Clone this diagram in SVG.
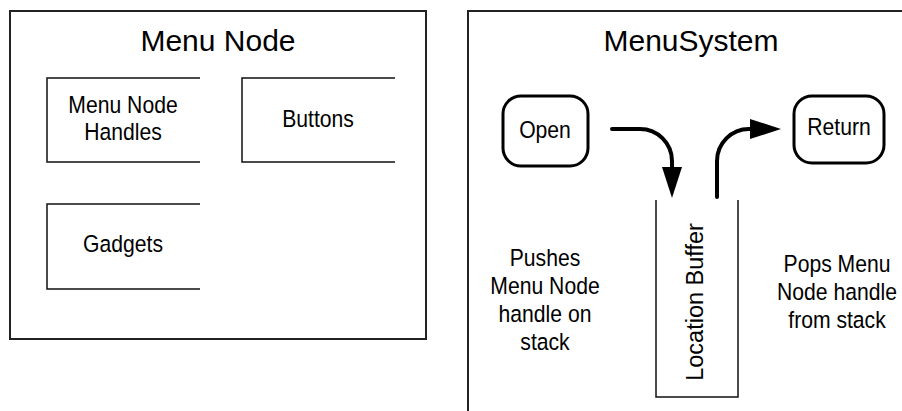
<svg xmlns="http://www.w3.org/2000/svg" width="902" height="411" viewBox="0 0 902 411">
  <style>
    text { font-family: "Liberation Sans", Arial, sans-serif; fill: #000; text-anchor: middle; }
    .title { font-size: 30px; }
    .label { font-size: 23.5px; }
    .frame { fill: none; stroke: #222; stroke-width: 2; }
    .open-box { fill: none; stroke: #111; stroke-width: 1.5; }
    .pill { fill: #fff; stroke: #000; stroke-width: 3; }
    .flow { fill: none; stroke: #000; stroke-width: 4; stroke-linecap: round; }
  </style>
  <defs>
    <marker id="head" viewBox="0 0 31 20" refX="0" refY="10" markerWidth="31" markerHeight="20" markerUnits="userSpaceOnUse" orient="auto">
      <path d="M0,0 L31,10 L0,20 z" fill="#000"/>
    </marker>
  </defs>

  <!-- Menu Node container -->
  <g id="menu-node">
    <rect class="frame" x="10" y="11" width="416" height="328"/>
    <text class="title" x="218" y="51">Menu Node</text>
  </g>
  <g id="menu-node-handles">
    <path class="open-box" d="M200,78 H47 V162 H200"/>
    <g transform="translate(123,0) scale(0.9,1)">
      <text class="label" x="0" y="113">Menu Node</text>
      <text class="label" x="0" y="140">Handles</text>
    </g>
  </g>
  <g id="buttons">
    <path class="open-box" d="M395,78 H242 V162 H395"/>
    <text class="label" transform="translate(318,0) scale(0.9,1)" x="0" y="127">Buttons</text>
  </g>
  <g id="gadgets">
    <path class="open-box" d="M200,204 H47 V289 H200"/>
    <text class="label" transform="translate(123,0) scale(0.9,1)" x="0" y="252">Gadgets</text>
  </g>

  <!-- MenuSystem container (runs past the right and bottom edges) -->
  <g id="menu-system">
    <rect class="frame" x="468" y="11" width="500" height="500"/>
    <text class="title" x="691" y="51">MenuSystem</text>
  </g>
  <g id="open">
    <rect class="pill" x="503" y="96" width="85" height="70" rx="18" ry="18"/>
    <text class="label" transform="translate(545,0) scale(0.9,1)" x="0" y="138">Open</text>
  </g>
  <g id="return">
    <rect class="pill" x="794" y="96" width="90" height="67" rx="18" ry="18"/>
    <text class="label" transform="translate(839,0) scale(0.9,1)" x="0" y="135">Return</text>
  </g>
  <g id="location-buffer">
    <path class="open-box" d="M656,200 V397 H738 V200"/>
    <text class="label" transform="translate(703,302) rotate(-90)" x="0" y="0">Location Buffer</text>
  </g>
  <g id="push-note" transform="translate(545,0) scale(0.9,1)">
    <text class="label" x="0" y="266">Pushes</text>
    <text class="label" x="0" y="294">Menu Node</text>
    <text class="label" x="0" y="322">handle on</text>
    <text class="label" x="0" y="350">stack</text>
  </g>
  <g id="pop-note" transform="translate(837,0) scale(0.9,1)">
    <text class="label" x="0" y="272">Pops Menu</text>
    <text class="label" x="0" y="300">Node handle</text>
    <text class="label" x="0" y="328">from stack</text>
  </g>

  <!-- connectors -->
  <g id="connectors">
    <path class="flow" d="M612,129 H640 A32,32 0 0 1 672,161 V167" marker-end="url(#head)"/>
    <path class="flow" d="M717,197 V161 A32,32 0 0 1 749,129 H750" marker-end="url(#head)"/>
  </g>
</svg>
